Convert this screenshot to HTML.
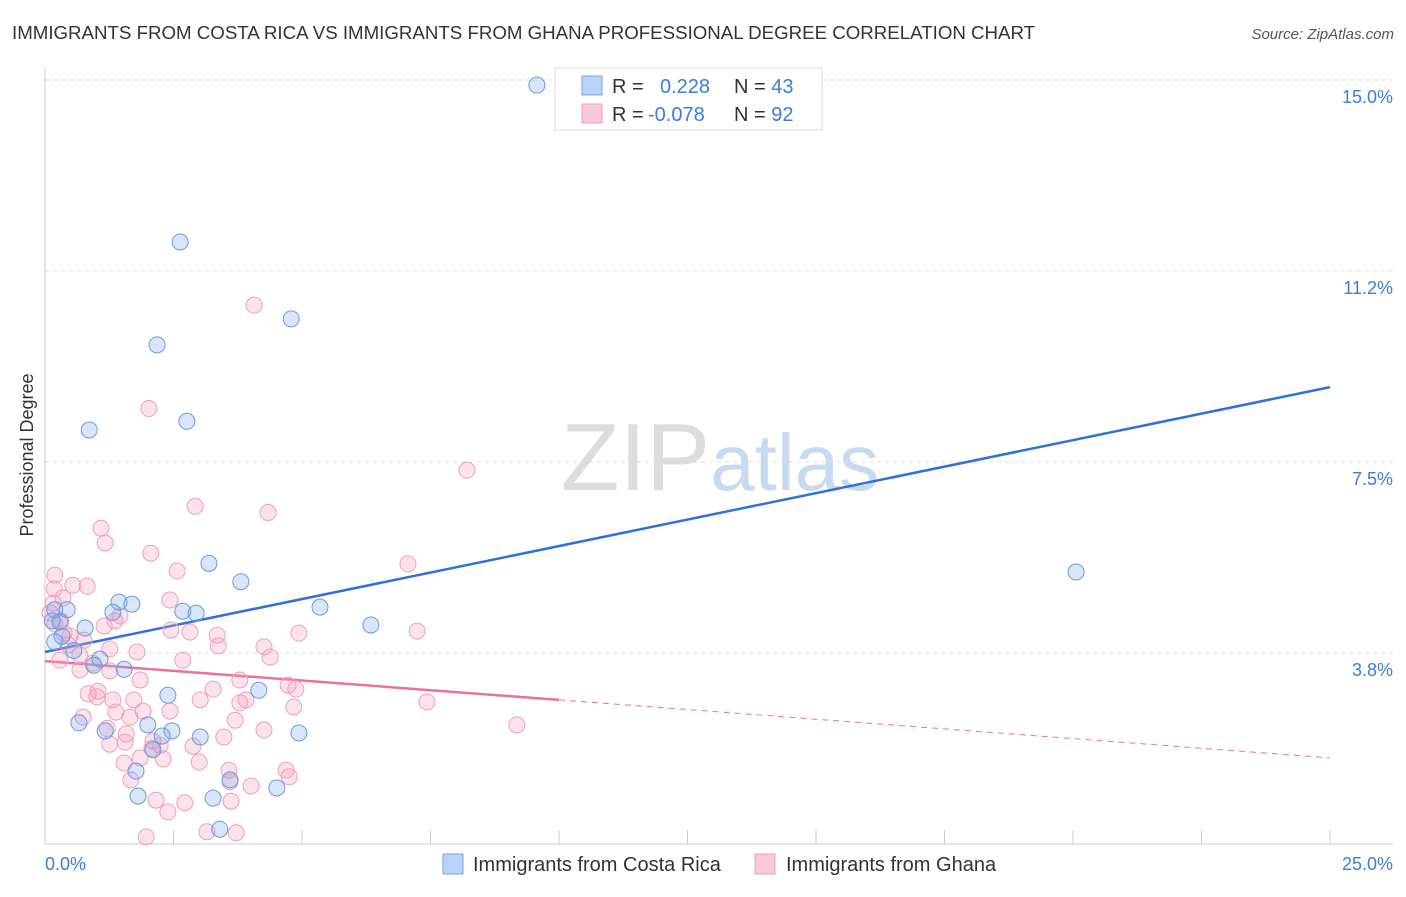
<!DOCTYPE html>
<html><head><meta charset="utf-8"><style>
body{margin:0;background:#fff;font-family:"Liberation Sans",sans-serif;}
svg text{font-family:"Liberation Sans",sans-serif;}
</style></head><body>
<svg width="1406" height="892" xmlns="http://www.w3.org/2000/svg">
<text x="12" y="39" font-size="18.7" fill="#333">IMMIGRANTS FROM COSTA RICA VS IMMIGRANTS FROM GHANA PROFESSIONAL DEGREE CORRELATION CHART</text>
<text x="1394" y="39" font-size="15" fill="#555" font-style="italic" text-anchor="end">Source: ZipAtlas.com</text>
<text x="720" y="490" font-size="96" fill="#ddd" text-anchor="middle" font-family="Liberation Serif">ZIP<tspan fill="#c8daf0" font-family="Liberation Sans" font-size="80">atlas</tspan></text>
<g id="grid"></g>
<line x1="45" y1="68" x2="45" y2="844" stroke="#ccc"/>
<line x1="45" y1="844" x2="1393" y2="844" stroke="#ccc"/>
<g id="xticks"></g>
<text x="33" y="455" font-size="18" fill="#333" text-anchor="middle" transform="rotate(-90 33 455)">Professional Degree</text>
<text x="45" y="870" font-size="18" fill="#3b7dd8">0.0%</text>
<text x="1393" y="870" font-size="18" fill="#3b7dd8" text-anchor="end">25.0%</text>
<g id="trend"></g>
<g id="pts"></g>
<g>
<rect x="555" y="68" width="267" height="62" fill="#fff" stroke="#ddd"/>
<rect x="582" y="76" width="20" height="19" fill="#b9d2f5" stroke="#7aa6e6"/>
<rect x="582" y="104" width="20" height="19" fill="#f9c9d8" stroke="#f0a0b8"/>
<text x="612" y="93" font-size="20" fill="#333">R = <tspan fill="#3b7dd8" x="660">0.228</tspan><tspan x="734">N = </tspan><tspan fill="#3b7dd8">43</tspan></text>
<text x="612" y="121" font-size="20" fill="#333">R = <tspan fill="#3b7dd8" x="648">-0.078</tspan><tspan x="734">N = </tspan><tspan fill="#3b7dd8">92</tspan></text>
</g>
<g>
<rect x="443" y="854" width="20" height="20" fill="#b9d2f5" stroke="#7aa6e6"/>
<text x="473" y="871" font-size="20" fill="#333">Immigrants from Costa Rica</text>
<rect x="755" y="854" width="20" height="20" fill="#f9c9d8" stroke="#f0a0b8"/>
<text x="786" y="871" font-size="20" fill="#333">Immigrants from Ghana</text>
</g>
</svg>
<script>
const yTicks=[3.75,7.5,11.25,15];
const yTickLabels=["3.8%","7.5%","11.2%","15.0%"];
const blueX=[9.57,2.63,4.79,2.18,0.86,2.76,3.19,3.81,20.06,5.35,6.34,1.44,1.69,1.32,2.68,2.94,0.19,0.43,0.29,0.78,0.19,0.33,0.56,1.07,1.54,0.95,2.39,4.16,0.66,2.0,2.47,1.17,2.28,3.02,4.94,2.1,1.77,3.6,1.81,3.27,4.51,3.4,0.14];
const blueY=[14.9,11.82,10.31,9.8,8.13,8.3,5.51,5.15,5.34,4.65,4.3,4.75,4.71,4.55,4.57,4.53,4.6,4.6,4.36,4.24,3.97,4.08,3.8,3.63,3.43,3.51,2.92,3.02,2.38,2.34,2.22,2.22,2.12,2.1,2.18,1.85,1.43,1.26,0.94,0.9,1.1,0.29,4.38];
const pinkX=[4.07,2.02,8.21,2.92,4.34,1.09,1.17,2.06,7.06,2.57,0.19,0.54,0.82,0.18,0.16,0.1,2.43,0.31,1.46,1.36,1.15,2.45,2.82,3.35,4.94,7.24,0.37,0.49,0.76,3.37,4.26,1.79,4.38,2.68,0.93,0.68,1.26,3.79,4.73,3.27,4.88,1.03,0.84,1.73,3.91,3.79,1.32,7.43,4.84,1.01,1.38,1.91,4.26,9.18,1.21,1.65,0.74,1.58,2.24,2.88,3.48,1.56,2.1,1.85,2.3,1.54,3.0,3.58,4.69,4.75,1.67,3.6,4.01,2.16,2.72,3.62,2.39,3.15,1.97,3.72,0.68,0.29,2.43,2.08,1.26,0.35,0.19,3.02,3.7,1.26,1.85,0.45];
const pinkY=[10.58,8.55,7.34,6.63,6.51,6.2,5.91,5.71,5.5,5.36,5.28,5.08,5.06,5.01,4.73,4.54,4.79,4.38,4.48,4.38,4.28,4.2,4.16,4.1,4.14,4.18,4.14,4.08,4.0,3.89,3.87,3.77,3.67,3.61,3.55,3.42,3.4,3.22,3.12,3.04,3.04,3.0,2.95,2.83,2.83,2.77,2.83,2.79,2.69,2.89,2.59,2.61,2.24,2.34,2.27,2.49,2.49,2.16,1.94,1.92,2.1,2.0,2.02,1.69,1.67,1.59,1.61,1.45,1.45,1.32,1.26,1.22,1.14,0.86,0.81,0.84,0.63,0.24,0.14,0.22,3.71,3.61,2.61,1.88,1.96,4.83,4.32,2.83,2.43,3.83,3.22,3.91];
const blueTrend=[3.77,8.97];
const pinkTrend=[3.59,1.69];
const pinkSolidEnd=10;
const X=v=>45+v*51.4, Y=v=>844-v*50.93;
const NS="http://www.w3.org/2000/svg";
function mk(tag,attrs,parent){const e=document.createElementNS(NS,tag);for(const k in attrs)e.setAttribute(k,attrs[k]);document.getElementById(parent).appendChild(e);return e;}
yTicks.forEach((t,i)=>{
 const l=mk('line',{x1:45,x2:1393,y1:Y(t),y2:Y(t),stroke:'#ddd','stroke-dasharray':'4,4'},'grid');
 
 
 const tx=mk('text',{x:1393,y:Y(t)+23,'font-size':18,fill:'#3b7dd8','text-anchor':'end'},'grid');
 tx.textContent=yTickLabels[i];
 
 
});
for(let i=1;i<=10;i++){
 const t=mk('line',{x1:X(i*2.5),x2:X(i*2.5),y1:830,y2:844,stroke:'#ccc'},'xticks');
 
 
}
let b=mk('line',{x1:X(0),y1:Y(blueTrend[0]),x2:X(25),y2:Y(blueTrend[1]),stroke:'#2f72d6','stroke-width':2.5},'trend');


const py=v=>pinkTrend[0]+(pinkTrend[1]-pinkTrend[0])*v/25;
let p1=mk('line',{x1:X(0),y1:Y(py(0)),x2:X(pinkSolidEnd),y2:Y(py(pinkSolidEnd)),stroke:'#e8739a','stroke-width':2.5},'trend');


let p2=mk('line',{x1:X(pinkSolidEnd),y1:Y(py(pinkSolidEnd)),x2:X(25),y2:Y(py(25)),stroke:'#e8739a','stroke-width':1,'stroke-dasharray':'6,5'},'trend');


pinkX.forEach((x,i)=>{
 const c=mk('circle',{cx:X(x),cy:Y(pinkY[i]),r:8,fill:'rgba(244,160,190,0.3)',stroke:'#f0a0b8','stroke-width':1},'pts');
 
 
});
blueX.forEach((x,i)=>{
 const c=mk('circle',{cx:X(x),cy:Y(blueY[i]),r:8,fill:'rgba(130,170,235,0.3)',stroke:'#6a9be0','stroke-width':1},'pts');
 
 
});
</script>
</body></html>
